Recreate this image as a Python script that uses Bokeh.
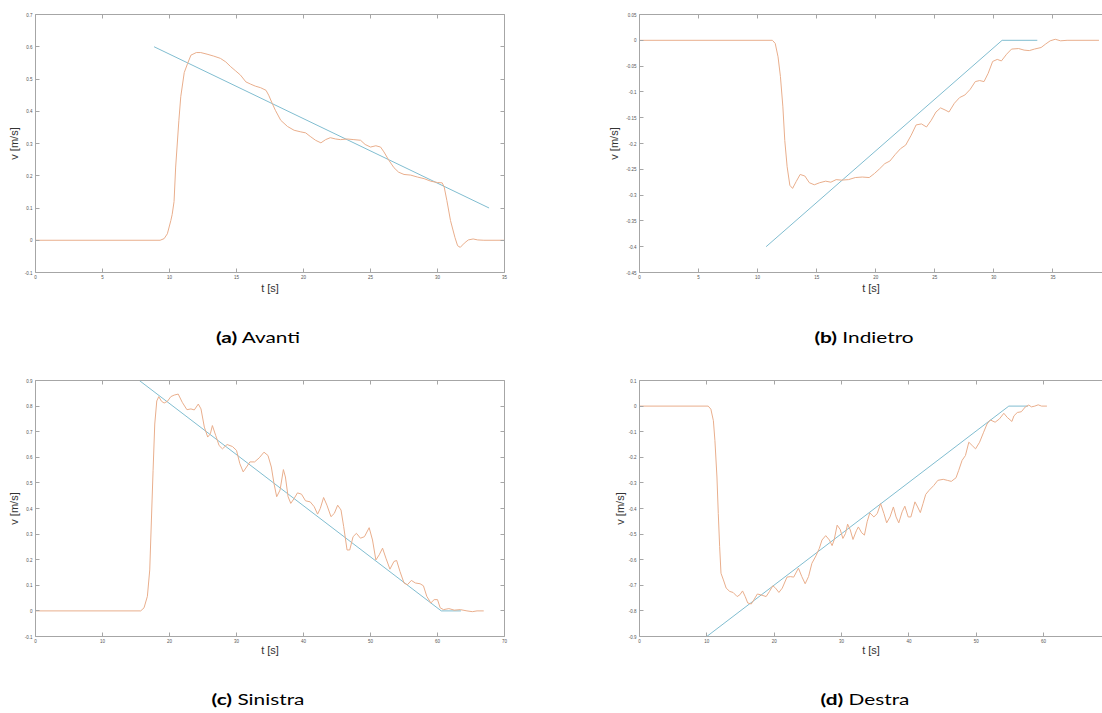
from bokeh.plotting import figure
from bokeh.models import LinearAxis, Range1d, CustomJSTickFormatter, FixedTicker, Div
from bokeh.layouts import column, row
from bokeh.embed import file_html
from bokeh.resources import INLINE

# ---------------- data ----------------
# (a) Avanti
ta_ref = [8.85, 33.85]
va_ref = [0.6, 0.1]
ta = [0, 9.3, 9.6, 9.84, 10.1, 10.2, 10.34, 10.46, 10.7, 10.84, 11.1, 11.35, 11.6, 12.0, 12.33, 12.8, 13.3, 13.8,
      14.2, 14.57, 14.94, 15.3, 15.7, 16.06, 16.4, 16.8, 17.2, 17.4, 17.67, 17.9, 18.3, 18.8, 19.3, 19.8,
      20.16, 20.5, 20.9, 21.3, 21.65, 22.0, 22.4, 22.77, 23.27, 23.76, 24.26, 24.6, 25.0, 25.4, 25.75, 26.0,
      26.37, 26.75, 27.1, 27.5, 28.0, 28.5, 29.0, 29.5, 30.0, 30.35, 30.5, 30.7, 30.97, 31.3, 31.5, 31.7,
      32.0, 32.3, 32.66, 33.0, 33.46, 35.0]
va = [0, 0, 0.005, 0.02, 0.061, 0.08, 0.12, 0.227, 0.372, 0.445, 0.52, 0.548, 0.574, 0.582, 0.582, 0.577, 0.571,
      0.564, 0.553, 0.538, 0.525, 0.512, 0.491, 0.484, 0.478, 0.473, 0.465, 0.45, 0.424, 0.403, 0.372, 0.353,
      0.341, 0.336, 0.333, 0.322, 0.31, 0.302, 0.312, 0.318, 0.314, 0.312, 0.314, 0.312, 0.31, 0.297, 0.289,
      0.293, 0.289, 0.274, 0.248, 0.225, 0.211, 0.204, 0.202, 0.196, 0.191, 0.183, 0.179, 0.178, 0.165, 0.123,
      0.061, 0.009, -0.017, -0.022, -0.009, 0.001, 0.004, 0.001, 0, 0]

# (b) Indietro
tb_ref = [10.72, 30.7, 33.68]
vb_ref = [-0.4, 0.0, 0.0]
tb = [0, 11.25, 11.49, 11.73, 11.93, 12.14, 12.3, 12.5, 12.73, 12.96, 13.26, 13.6, 14.0, 14.38, 14.8, 15.26,
      15.76, 16.2, 16.65, 17.1, 17.7, 18.27, 18.86, 19.45, 19.9, 20.33, 20.77, 21.2, 21.66, 22.1, 22.54, 23.0,
      23.42, 23.87, 24.3, 24.7, 25.1, 25.49, 25.87, 26.2, 26.66, 27.1, 27.55, 28.0, 28.43, 28.8, 29.17, 29.52,
      29.9, 30.29, 30.64, 31.08, 31.5, 32.1, 32.56, 33.0, 33.44, 34.0, 34.4, 34.77, 35.2, 35.65, 36.2, 38.9]
vb = [0, 0, -0.006, -0.032, -0.07, -0.129, -0.194, -0.245, -0.281, -0.287, -0.274, -0.26, -0.263, -0.276,
      -0.28, -0.276, -0.273, -0.275, -0.27, -0.271, -0.27, -0.266, -0.265, -0.266, -0.258, -0.249, -0.239,
      -0.234, -0.221, -0.21, -0.203, -0.184, -0.164, -0.162, -0.168, -0.155, -0.139, -0.131, -0.135, -0.139,
      -0.122, -0.111, -0.106, -0.095, -0.08, -0.078, -0.08, -0.064, -0.041, -0.037, -0.04, -0.027, -0.017,
      -0.016, -0.019, -0.02, -0.017, -0.014, -0.007, -0.001, 0.002, -0.001, 0, 0]

# (c) Sinistra
tc_ref = [15.5, 60.56, 63.5]
vc_ref = [0.9, 0.0, 0.0]
tc = [0, 15.7, 16.2, 16.7, 17.05, 17.3, 17.55, 17.8, 18.1, 18.4, 18.8, 19.2, 19.7, 20.2, 20.7, 21.3, 21.9, 22.6,
      23.2, 23.7, 24.3, 24.7, 25.2, 25.7, 26.1, 26.4, 26.9, 27.4, 27.9, 28.6, 29.4, 30.0, 30.5, 31.0, 31.5,
      32.0, 32.7, 33.4, 34.1, 34.7, 35.2, 35.6, 36.0, 36.5, 37.0, 37.3, 37.7, 38.1, 38.6, 39.1, 39.7, 40.3,
      41.0, 41.6, 42.1, 42.5, 43.0, 43.5, 44.1, 44.6, 45.1, 45.6, 46.0, 46.5, 46.9, 47.4, 47.9, 48.5, 49.1,
      49.8, 50.3, 50.8, 51.3, 51.8, 52.3, 52.9, 53.5, 53.9, 54.4, 55.0, 55.5, 56.1, 56.7, 57.4, 57.9, 58.4,
      59.0, 59.5, 60.0, 60.4, 60.9, 61.7, 62.5, 63.4, 64.4, 65.2, 65.9, 66.9]
vc = [0, 0, 0.012, 0.057, 0.16, 0.355, 0.549, 0.73, 0.82, 0.837, 0.819, 0.812, 0.819, 0.837, 0.843, 0.847,
      0.815, 0.786, 0.789, 0.785, 0.808, 0.789, 0.718, 0.679, 0.692, 0.724, 0.685, 0.646, 0.633, 0.65, 0.642,
      0.627, 0.575, 0.543, 0.562, 0.582, 0.582, 0.598, 0.62, 0.607, 0.562, 0.497, 0.446, 0.472, 0.552, 0.523,
      0.446, 0.42, 0.439, 0.461, 0.456, 0.43, 0.426, 0.407, 0.378, 0.4, 0.443, 0.413, 0.368, 0.381, 0.413,
      0.394, 0.329, 0.238, 0.238, 0.29, 0.303, 0.284, 0.29, 0.325, 0.277, 0.199, 0.219, 0.245, 0.206, 0.163,
      0.193, 0.197, 0.154, 0.109, 0.102, 0.119, 0.109, 0.106, 0.098, 0.057, 0.031, 0.044, 0.044, 0.012, 0.005,
      0.009, 0.003, 0.005, 0, -0.003, 0, 0]

# (d) Destra
td_ref = [9.99, 54.84, 57.7]
vd_ref = [-0.9, 0.0, 0.0]
td = [0, 10.2, 10.6, 10.97, 11.2, 11.5, 11.7, 11.9, 12.1, 12.46, 12.87, 13.4, 13.9, 14.5, 14.9, 15.3, 15.7,
      16.07, 16.6, 17.0, 17.5, 18.0, 18.8, 19.3, 19.8, 20.2, 20.7, 21.2, 21.9, 22.4, 22.9, 23.6, 24.1, 24.6,
      25.1, 25.6, 26.2, 26.7, 27.1, 27.65, 28.2, 28.6, 28.9, 29.35, 29.8, 30.2, 30.6, 30.9, 31.3, 31.7, 32.2,
      32.5, 33.0, 33.4, 33.8, 34.2, 34.8, 35.3, 35.8, 36.3, 36.7, 37.2, 37.7, 38.1, 38.5, 39.0, 39.4, 39.9,
      40.3, 40.7, 40.9, 41.3, 41.7, 42.1, 42.5, 43.0, 43.7, 44.3, 45.1, 45.7, 46.3, 47.0, 47.4, 47.9, 48.4,
      48.9, 49.4, 49.9, 50.5, 51.1, 51.6, 52.1, 52.8, 53.45, 54.1, 54.6, 55.3, 55.6, 56.1, 56.7, 57.3, 57.8,
      58.2, 58.7, 59.2, 59.7, 60.5]
vd = [0, 0, -0.012, -0.057, -0.135, -0.277, -0.42, -0.549, -0.653, -0.679, -0.711, -0.724, -0.728, -0.744,
      -0.737, -0.722, -0.744, -0.769, -0.773, -0.756, -0.734, -0.737, -0.744, -0.724, -0.702, -0.711, -0.728,
      -0.711, -0.668, -0.666, -0.668, -0.633, -0.666, -0.694, -0.666, -0.614, -0.585, -0.556, -0.523, -0.506,
      -0.523, -0.545, -0.523, -0.465, -0.482, -0.517, -0.497, -0.461, -0.484, -0.521, -0.487, -0.472, -0.495,
      -0.504, -0.452, -0.417, -0.433, -0.42, -0.381, -0.42, -0.456, -0.433, -0.394, -0.433, -0.456, -0.413,
      -0.391, -0.433, -0.433, -0.394, -0.374, -0.394, -0.416, -0.381, -0.345, -0.329, -0.31, -0.29, -0.286,
      -0.29, -0.294, -0.28, -0.251, -0.212, -0.193, -0.141, -0.154, -0.167, -0.141, -0.102, -0.07, -0.054,
      -0.063, -0.05, -0.028, -0.044, -0.06, -0.038, -0.025, -0.022, -0.003, 0.004, -0.003, 0, 0.005, 0, 0]

xticks_a = [0, 5, 10, 15, 20, 25, 30, 35]
yticks_a = [-0.1, 0, 0.1, 0.2, 0.3, 0.4, 0.5, 0.6, 0.7]
xticks_b = [0, 5, 10, 15, 20, 25, 30, 35]
yticks_b = [-0.45, -0.4, -0.35, -0.3, -0.25, -0.2, -0.15, -0.1, -0.05, 0, 0.05]
xticks_c = [0, 10, 20, 30, 40, 50, 60, 70]
yticks_c = [-0.1, 0, 0.1, 0.2, 0.3, 0.4, 0.5, 0.6, 0.7, 0.8, 0.9]
xticks_d = [0, 10, 20, 30, 40, 50, 60, 70]
yticks_d = [-0.9, -0.8, -0.7, -0.6, -0.5, -0.4, -0.3, -0.2, -0.1, 0, 0.1]

cap_letters = ["(a)", "(b)", "(c)", "(d)"]
cap_names = ["Avanti", "Indietro", "Sinistra", "Destra"]
x_label = "t [s]"
y_label = "v [m/s]"

# ---------------- style ----------------
AX = "#a6a6a6"
TICKLBL = "#555555"
LBL = "#333333"
C_REF = "#80bdd0"
C_MEAS = "#e9ae8c"
FONT = "Liberation Sans"

fmt_code = "return String(Math.round(tick*1000)/1000);"


def style_axis(ax, ticks, show):
    ax.ticker = FixedTicker(ticks=ticks)
    ax.axis_line_color = AX
    ax.axis_line_width = 1
    ax.major_tick_line_color = AX
    ax.major_tick_in = 4
    ax.major_tick_out = 0
    ax.minor_tick_line_color = None
    ax.major_label_text_font = FONT
    ax.major_label_text_color = TICKLBL
    if show:
        ax.formatter = CustomJSTickFormatter(code=fmt_code)
        ax.major_label_text_font_size = "4.5px"
        ax.major_label_standoff = 2
    else:
        ax.formatter = CustomJSTickFormatter(code="return '';")
        ax.major_label_text_font_size = "0px"
        ax.major_label_standoff = 0
    ax.axis_label_text_font = FONT
    ax.axis_label_text_font_size = "11px"
    ax.axis_label_text_font_style = "normal"
    ax.axis_label_text_color = LBL


def panel(t, v, tr, vr, xr, yr, xt, yt, w, h, bl, br, bt, bb, right_axis, ylstand, xlstand):
    p = figure(width=w, height=h, x_range=Range1d(*xr), y_range=Range1d(*yr),
               output_backend="svg", toolbar_location=None,
               x_axis_type=None, y_axis_type=None,
               min_border_left=bl, min_border_right=br, min_border_top=bt, min_border_bottom=bb)
    p.outline_line_color = None
    p.background_fill_color = "white"
    p.border_fill_color = "white"
    p.xgrid.visible = False
    p.ygrid.visible = False

    bx = LinearAxis(axis_label=x_label)
    style_axis(bx, xt, True)
    bx.axis_label_standoff = xlstand
    p.add_layout(bx, "below")

    ly = LinearAxis(axis_label=y_label)
    style_axis(ly, yt, True)
    ly.major_label_standoff = 3
    ly.axis_label_standoff = ylstand
    p.add_layout(ly, "left")

    tx = LinearAxis()
    style_axis(tx, xt, False)
    p.add_layout(tx, "above")

    if right_axis:
        ry = LinearAxis()
        style_axis(ry, yt, False)
        p.add_layout(ry, "right")

    p.line(tr, vr, line_color=C_REF, line_width=1.0)
    p.line(t, v, line_color=C_MEAS, line_width=1.0)
    return p


pa = panel(ta, va, ta_ref, va_ref, (0, 35), (-0.1, 0.7), xticks_a, yticks_a,
           555, 300, 35, 51, 14, 28, True, 2, 0)
pb = panel(tb, vb, tb_ref, vb_ref, (0, 39.2), (-0.45, 0.05), xticks_b, yticks_b,
           547, 300, 84, 0, 14, 28, False, 3, 0)
pc = panel(tc, vc, tc_ref, vc_ref, (0, 70), (-0.1, 0.9), xticks_c, yticks_c,
           555, 288, 35, 51, 10, 21, True, 2, -2)
pd = panel(td, vd, td_ref, vd_ref, (0, 68.75), (-0.9, 0.1), xticks_d, yticks_d,
           547, 288, 84, 0, 10, 21, False, 0, -2)


def caption_span(x, y, letter, name):
    return ('<span style="position:absolute;left:%dpx;top:%dpx;white-space:nowrap;'
            'line-height:16px;transform:translateX(-50%%) scaleX(1.3);">'
            '<b>%s</b> %s</span>' % (x, y, letter, name))


def caption_row(h, y, items):
    html = ('<div style="position:relative;width:1102px;height:%dpx;font-family:Lato;'
            'font-size:16px;color:#000;">' % h)
    for x, letter, name in items:
        html += caption_span(x, y, letter, name)
    html += '</div>'
    return Div(text=html, width=1102, height=h, margin=0)


cap1 = caption_row(70, 29, [(258, cap_letters[0], cap_names[0]), (864, cap_letters[1], cap_names[1])])
cap2 = caption_row(54, 33, [(258, cap_letters[2], cap_names[2]), (865, cap_letters[3], cap_names[3])])

layout = column(row(pa, pb), cap1, row(pc, pd), cap2)

open("out.html", "w").write(file_html(layout, INLINE))
